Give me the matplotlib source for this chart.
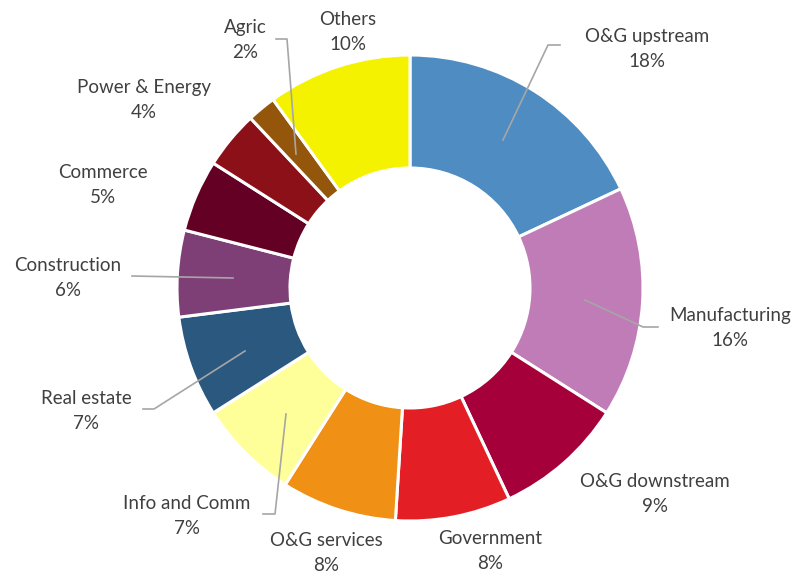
import matplotlib
matplotlib.use("Agg")
import matplotlib.pyplot as plt

# slice data, clockwise from 12 o'clock
sectors = ["O&G upstream", "Manufacturing", "O&G downstream", "Government",
           "O&G services", "Info and Comm", "Real estate", "Construction",
           "Commerce", "Power & Energy", "Agric", "Others"]
shares = [18, 16, 9, 8, 8, 7, 7, 6, 5, 4, 2, 10]
colors = ["#4F8CC2", "#C07CB6", "#A5003A", "#E31E24", "#F09014", "#FFFF99",
          "#2B587F", "#7E3F76", "#630024", "#8C1018", "#93560A", "#F5F200"]

# label anchor (pixel coords, y down) and optional leader line
label_pos = [(647, 49), (730, 328), (655, 494), (490, 551), (326, 553),
             (187, 516), (86, 411), (68, 278), (103, 185), (144, 100),
             (245, 40), (348, 32)]
leaders = {
    0: [(503, 140), (548, 45), (560, 45)],
    1: [(585, 300), (643, 327), (658, 327)],
    5: [(286, 414), (275, 514), (263, 514)],
    6: [(245, 351), (154, 409), (143, 409)],
    7: [(233, 278), (132, 276)],
    10: [(296, 154), (287, 39), (276, 39)],
}

W, H = 812, 576
fig = plt.figure(figsize=(W / 100, H / 100), dpi=100)
ax = fig.add_axes([0, 0, 1, 1])

cx, cy, R = 410, H - 288, 233
ax.pie(shares, colors=colors, startangle=90, counterclock=False,
       center=(cx, cy), radius=R, frame=True,
       wedgeprops=dict(width=R - 120, edgecolor="white", linewidth=2.2))
ax.set_xlim(0, W)
ax.set_ylim(0, H)
ax.axis("off")

for i, (name, v) in enumerate(zip(sectors, shares)):
    if i in leaders:
        xs = [p[0] for p in leaders[i]]
        ys = [H - p[1] for p in leaders[i]]
        ax.plot(xs, ys, color="#A6A6A6", lw=1.2, zorder=5)
    x, y = label_pos[i]
    ax.text(x, H - y, f"{name}\n{v}%", ha="center", va="center",
            fontsize=13.5, family="Lato", color="#404040", linespacing=1.55)

fig.savefig("out.png", dpi=100)
